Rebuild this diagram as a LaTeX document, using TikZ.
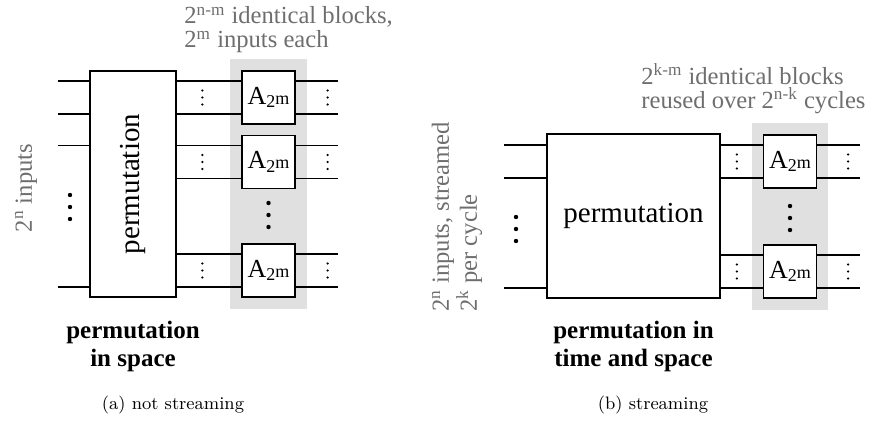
\documentclass[tikz,border=0pt]{standalone}
\usepackage{graphicx}
\usepackage{fontspec}
\newfontfamily\timesfont{Liberation Serif}
\usetikzlibrary{positioning,fit,backgrounds}
\definecolor{notegray}{gray}{0.43}
\definecolor{bankgray}{gray}{0.88}
% label of one sub-block
\newcommand{\Ablk}{A\raisebox{-0.14em}{\fontsize{9}{9}\selectfont 2\raisebox{0.2em}{m}}}

\begin{document}
\begin{tikzpicture}[
    % GLOBAL CFG
    x=0.5pt, y=0.5pt,
    % Styles
    wire/.style={% signal lines
        line width=0.55pt,
        },
    permbox/.style={% the big permutation boxes
        rectangle,
        draw,
        line width=0.6pt,
        inner sep=0pt,
        font=\timesfont\fontsize{14.5}{14.5}\selectfont,
        },
    ablock/.style={% the small A blocks
        rectangle,
        draw,
        fill=white,
        line width=0.6pt,
        minimum width=26.5pt,
        minimum height=26.5pt,
        inner sep=0pt,
        font=\timesfont\fontsize{13}{13}\selectfont,
        },
    bank/.style={% shaded area behind the blocks
        fill=bankgray,
        inner sep=5.5pt,
        },
    note/.style={% gray remarks
        text=notegray,
        inner sep=0pt,
        align=left,
        font=\timesfont\fontsize{12.3}{12}\selectfont,
        },
    heading/.style={% bold text under the boxes
        inner sep=0pt,
        align=center,
        font=\timesfont\bfseries\fontsize{12.5}{14}\selectfont,
        },
    captext/.style={% sub captions
        inner sep=0pt,
        font=\fontsize{9}{9}\selectfont,
        },
    wiredots/.pic={\foreach \k in {-1,0,1} \fill (0,\k*7) circle (0.6pt);},
    gapdots/.pic={\foreach \k in {-1,0,1} \fill (0,\k*12) circle (1.1pt);},
    ]
    \useasboundingbox (0,0) rectangle (870,424);

    % Left: not streaming
    \node [permbox, minimum width=43pt, minimum height=113pt] (perm1) at (133,240) {\rotatebox{90}{permutation}};
    \node [ablock] (A1a) at (268.5,326.5) {\Ablk};
    \node [ablock] (A1b) at (268.5,262) {\Ablk};
    \node [ablock] (A1c) at (268.5,153.5) {\Ablk};

    % Right: streaming
    \node [permbox, minimum width=86.5pt, minimum height=82pt] (perm2) at (633.5,208) {permutation};
    \node [ablock] (A2a) at (790,262.5) {\Ablk};
    \node [ablock] (A2b) at (790,152.5) {\Ablk};

    % shaded banks
    \begin{scope}[on background layer]
        \node [bank, fit=(A1a)(A1c)] (bank1) {};
        \node [bank, fit=(A2a)(A2b)] (bank2) {};
    \end{scope}

    % wire levels
    \foreach \blk in {A1a,A1b,A1c,A2a,A2b}{
        \coordinate (\blk-t) at ([yshift=8.25pt]\blk.west);
        \coordinate (\blk-b) at ([yshift=-8.25pt]\blk.west);
    }
    \coordinate (inL) at (58,0);
    \coordinate (outL) at (338,0);
    \coordinate (inR) at (504,0);
    \coordinate (outR) at (860,0);

    % Wires, left
    \foreach \w in {A1a-t,A1a-b,A1b-t,A1c-b}
        \draw [wire] (\w -| inL) -- (\w -| perm1.west);
    \foreach \w in {A1a-t,A1a-b,A1b-t,A1b-b,A1c-t,A1c-b}{
        \draw [wire] (\w -| perm1.east) -- (\w);
        \draw [wire] (\w -| A1a.east) -- (\w -| outL);
    }
    % Wires, right
    \foreach \w in {A2a-t,A2a-b,A2b-b}
        \draw [wire] (\w -| inR) -- (\w -| perm2.west);
    \foreach \w in {A2a-t,A2a-b,A2b-t,A2b-b}{
        \draw [wire] (\w -| perm2.east) -- (\w);
        \draw [wire] (\w -| A2a.east) -- (\w -| outR);
    }

    % dots
    \foreach \blk in {A1a,A1b,A1c}{
        \pic at ([xshift=-19.5pt]\blk.west) {wiredots};
        \pic at ([xshift=16pt]\blk.east) {wiredots};
    }
    \foreach \blk in {A2a,A2b}{
        \pic at ([xshift=-13pt]\blk.west) {wiredots};
        \pic at ([xshift=15.5pt]\blk.east) {wiredots};
    }
    \pic at (70,217) {gapdots};
    \pic at (268.5,209) {gapdots};
    \pic at (516,195) {gapdots};
    \pic at (790,206) {gapdots};

    % remarks
    \node [note, rotate=90] (in1) at (26,236) {2\textsuperscript{n} inputs};
    \node [note, rotate=90] (in2) at (457,207) {2\textsuperscript{n} inputs, streamed\\2\textsuperscript{k} per cycle};
    \node [note, anchor=north west] (head1) at (184,417.5) {2\textsuperscript{n-m} identical blocks,\\2\textsuperscript{m} inputs each};
    \node [note, anchor=north west] (head2) at (641,360.5) {2\textsuperscript{k-m} identical blocks\\reused over 2\textsuperscript{n-k} cycles};

    % headings and captions
    \node [heading, below=11.5pt of perm1] (sum1) {permutation\\in space};
    \node [heading, below=11pt of perm2] (sum2) {permutation in\\time and space};
    \node [captext, anchor=base] (cap1) at (173,15) {(a) not streaming};
    \node [captext, anchor=base] (cap2) at (653,15) {(b) streaming};

\end{tikzpicture}
\end{document}
